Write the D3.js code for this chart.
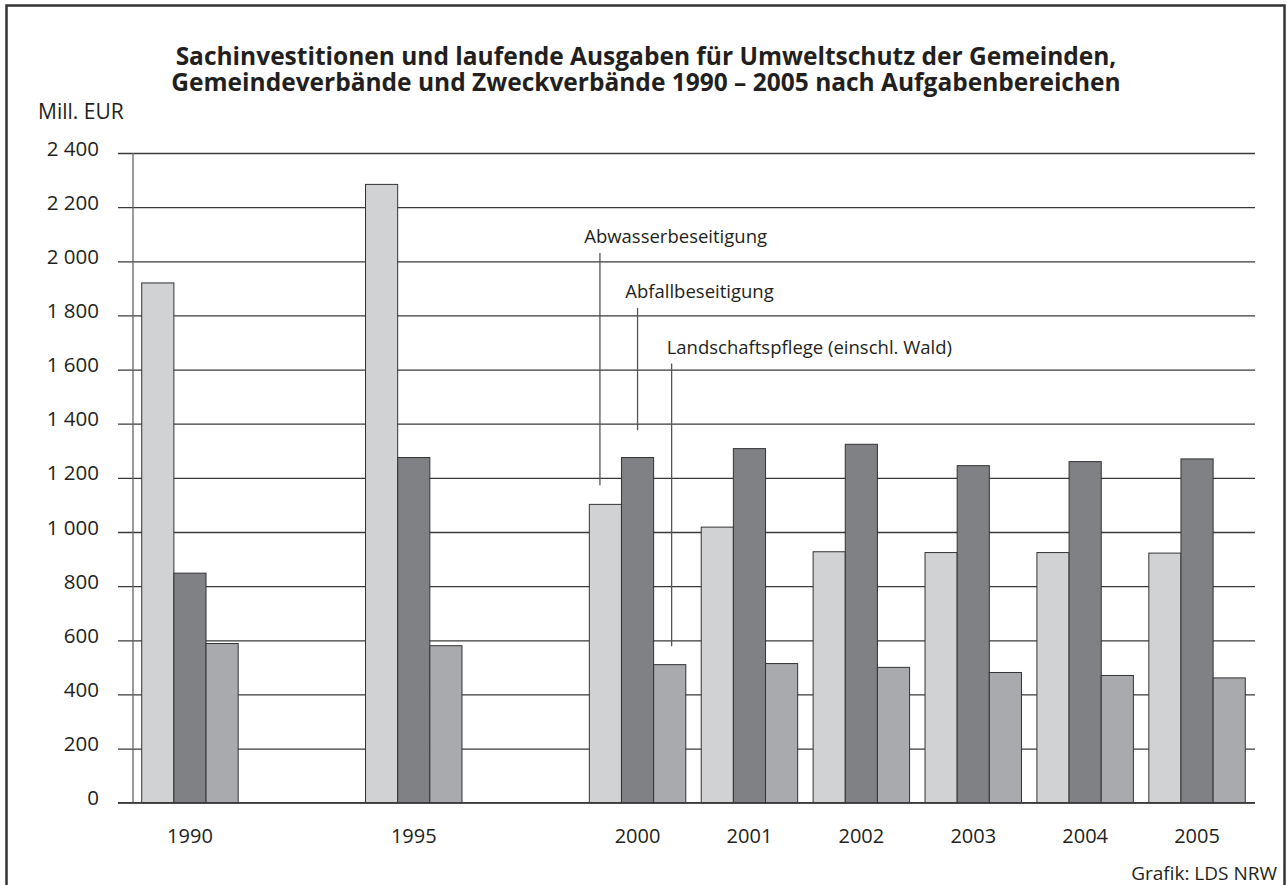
<!DOCTYPE html>
<html>
<head>
<meta charset="utf-8">
<script src="https://cdn.jsdelivr.net/npm/d3@7"></script>
<style>
    body { margin: 0; background: #fff; }
    svg text { font-family: 'Open Sans', 'Noto Sans', sans-serif; fill: #231f20; }
</style>
</head>
<body>
<div id="chart"></div>
<script>
//Datos
const years = ['1990', '1995', '2000', '2001', '2002', '2003', '2004', '2005'];
const series = ['Abwasserbeseitigung', 'Abfallbeseitigung', 'Landschaftspflege (einschl. Wald)'];
const abwasser = [1920, 2284, 1102, 1018, 927, 924, 924, 922];
const abfall = [848, 1275, 1275, 1308, 1324, 1245, 1260, 1270];
const landschaft = [588, 580, 510, 514, 500, 481, 470, 461];
const yTicks = [0, 200, 400, 600, 800, 1000, 1200, 1400, 1600, 1800, 2000, 2200, 2400];
//Etiquetas de las series (valor superior e inferior de la línea)
const labelTop = [2031, 1828, 1622];
const labelBottom = [1173, 1376, 578];

//Colores fijos
const COLOR_1 = '#d1d2d4',
COLOR_2 = '#808184',
COLOR_3 = '#a9aaad',
COLOR_LINE = '#3a3a3a';

let values = [abwasser, abfall, landschaft];
let data = years.map(function(y, i) {
    return { year: y, vals: series.map(function(s, j) { return { serie: s, idx: j, value: values[j][i] }; }) };
});

let W = 1287, H = 885;
let margin = {top: 153, left: 134, right: 33, bottom: 82};
let width = W - margin.left - margin.right,
    height = H - margin.top - margin.bottom - 0.3;

let root = d3.select('#chart').append('svg')
    .attr('width', W)
    .attr('height', H);

//Marco
root.append('rect')
    .attr('x', 6.5).attr('y', 5.5)
    .attr('width', 1278).attr('height', 900)
    .attr('fill', 'none')
    .attr('stroke', '#333')
    .attr('stroke-width', 2.5);

//Título
let title = root.append('text')
    .attr('x', 646)
    .attr('text-anchor', 'middle')
    .style('font-weight', 700)
    .style('font-size', '24.5px');
title.append('tspan').attr('x', 646).attr('y', 65).text('Sachinvestitionen und laufende Ausgaben für Umweltschutz der Gemeinden,');
title.append('tspan').attr('x', 646).attr('y', 91).text('Gemeindeverbände und Zweckverbände 1990 – 2005 nach Aufgabenbereichen');

root.append('text')
    .attr('x', 38).attr('y', 119)
    .style('font-size', '21px')
    .text('Mill. EUR');

root.append('text')
    .attr('x', 1277).attr('y', 880)
    .attr('text-anchor', 'end')
    .style('font-size', '19px')
    .text('Grafik: LDS NRW');

let svg = root.append('g')
    .attr('transform', 'translate(' + margin.left + ',' + margin.top + ')');

//Huecos entre 1990, 1995 y 2000
let slots = [];
years.forEach(function(y, i) {
    slots.push(y);
    if (y == '1990' || y == '1995') { slots.push('gap' + y); }
});

let x = d3.scaleBand()
    .domain(slots)
    .range([0, width - 1]);

let xs = d3.scaleBand()
    .domain(series)
    .range([0, x.bandwidth()])
    .paddingInner(0)
    .paddingOuter(0.24);

let y = d3.scaleLinear()
    .domain([0, 2400])
    .range([height, 0]);

//Eje Y con líneas de rejilla
let yAxis = function(g) {
    g.call(d3.axisLeft(y).tickValues(yTicks).tickSize(0).tickPadding(0).tickFormat(function(d) {
        return d3.format(',')(d).replace(/,/g, ' ');
    }));
    g.select('.domain').remove();
    g.selectAll('.tick text')
        .attr('x', -35)
        .attr('dy', '0.32em')
        .attr('y', -4.5)
        .style('font-size', '20.5px')
        .style('font-family', null);
    g.selectAll('.tick line')
        .attr('x1', -16)
        .attr('x2', width + 1)
        .attr('stroke', COLOR_LINE)
        .attr('stroke-width', 1.3);
};

svg.append('g')
    .call(yAxis);

svg.append('line')
    .attr('x1', -1).attr('x2', -1)
    .attr('y1', y(2400)).attr('y2', y(0))
    .attr('stroke', '#666')
    .attr('stroke-width', 1.3);

//Eje X
let xAxis = function(g) {
    g.call(d3.axisBottom(x).tickValues(years).tickSize(0).tickPadding(0));
    g.select('.domain').remove();
    g.selectAll('.tick text')
        .attr('y', 40)
        .attr('dy', 0)
        .style('font-size', '20px')
        .style('font-family', null);
};

svg.append('g')
    .attr('transform', 'translate(0,' + height + ')')
    .call(xAxis);

//Barras
let colors = [COLOR_1, COLOR_2, COLOR_3];
let groups = svg.selectAll('.group')
    .data(data)
    .enter()
    .append('g')
    .attr('class', 'group')
    .attr('transform', function(d) { return 'translate(' + x(d.year) + ',0)'; });

groups.selectAll('rect')
    .data(function(d) { return d.vals; })
    .enter()
    .append('rect')
    .attr('x', function(d) { return xs(d.serie); })
    .attr('y', function(d) { return y(d.value); })
    .attr('width', xs.bandwidth())
    .attr('height', function(d) { return height - y(d.value); })
    .attr('fill', function(d) { return colors[d.idx]; })
    .attr('stroke', '#333')
    .attr('stroke-width', 1);

//Línea base
svg.append('line')
    .attr('x1', -16).attr('x2', width + 1)
    .attr('y1', y(0)).attr('y2', y(0))
    .attr('stroke', COLOR_LINE)
    .attr('stroke-width', 1.5);

//Etiquetas de series sobre el grupo 2000
let lineShift = [0.33, 0.5, 0.56],
    textShift = [-15.7, -12.3, -5];
series.forEach(function(s, i) {
    let lx = x('2000') + xs(s) + xs.bandwidth() * lineShift[i];
    svg.append('line')
        .attr('x1', lx).attr('x2', lx)
        .attr('y1', y(labelTop[i])).attr('y2', y(labelBottom[i]))
        .attr('stroke', '#555')
        .attr('stroke-width', 1.3);
    svg.append('text')
        .attr('x', lx + textShift[i])
        .attr('y', y(labelTop[i]) - 10)
        .style('font-size', '18.5px')
        .text(s);
});
</script>
</body>
</html>
